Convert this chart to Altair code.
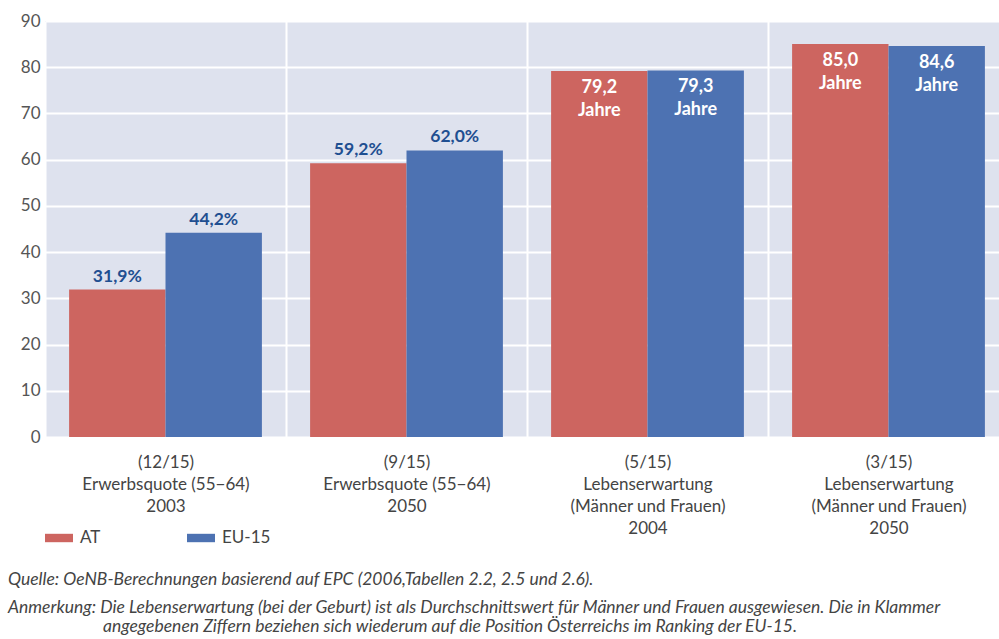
import altair as alt
import pandas as pd

categories = [
    "(12/15)|Erwerbsquote (55−64)|2003",
    "(9/15)|Erwerbsquote (55−64)|2050",
    "(5/15)|Lebenserwartung|(Männer und Frauen)|2004",
    "(3/15)|Lebenserwartung|(Männer und Frauen)|2050",
]
series = ["AT", "EU-15"]
at_values = [31.9, 59.2, 79.2, 85.0]
eu_values = [44.2, 62.0, 79.3, 84.6]
at_labels = ["31,9%", "59,2%", "79,2|Jahre", "85,0|Jahre"]
eu_labels = ["44,2%", "62,0%", "79,3|Jahre", "84,6|Jahre"]
label_inside = [False, False, True, True]
y_ticks = [0, 10, 20, 30, 40, 50, 60, 70, 80, 90]
colors = ["#CD6560", "#4D72B2"]

note_quelle = "Quelle: OeNB-Berechnungen basierend auf EPC (2006,Tabellen 2.2, 2.5 und 2.6)."
note_anm1 = "Anmerkung: Die Lebenserwartung (bei der Geburt) ist als Durchschnittswert für Männer und Frauen ausgewiesen. Die in Klammer"
note_anm2 = "angegebenen Ziffern beziehen sich wiederum auf die Position Österreichs im Ranking der EU-15."

rows = []
for i, c in enumerate(categories):
    rows.append(dict(category=c, series="AT", value=at_values[i], label=at_labels[i], inside=label_inside[i]))
    rows.append(dict(category=c, series="EU-15", value=eu_values[i], label=eu_labels[i], inside=label_inside[i]))
df = pd.DataFrame(rows)

FS = 17

x_enc = alt.X(
    "category:N", sort=categories,
    scale=alt.Scale(range=[0, 964], paddingInner=0, paddingOuter=0),
    axis=alt.Axis(title=None, labelExpr="split(datum.label, '|')", labelAngle=0,
                  labelPadding=17, labelLineHeight=22, labelFontSize=FS, labelColor="#444",
                  labelBaseline="top",
                  ticks=False, domain=False, grid=True, gridColor="white", gridWidth=2,
                  tickBand="extent"),
)
xo_enc = alt.XOffset("series:N", sort=series, scale=alt.Scale(paddingInner=0, paddingOuter=0.25))
y_enc = alt.Y(
    "value:Q", scale=alt.Scale(domain=[0, 90], nice=False),
    axis=alt.Axis(title=None, values=y_ticks, grid=True, gridColor="white", gridWidth=2,
                  ticks=False, domain=False, labelPadding=5, labelFontSize=FS, labelColor="#555"),
)
color_enc = alt.Color(
    "series:N", sort=series, scale=alt.Scale(domain=series, range=colors),
    legend=alt.Legend(title=None, orient="none", legendX=0, legendY=503, direction="horizontal",
                      padding=0, columnPadding=86, labelFontSize=FS, labelColor="#444",
                      symbolType="M-1,-0.3L1,-0.3L1,0.3L-1,0.3Z", symbolSize=784,
                      symbolStrokeWidth=0, labelOffset=7, symbolOpacity=1),
)

base = alt.Chart(df).encode(x=x_enc, xOffset=xo_enc, y=y_enc)
bars = base.mark_bar(opacity=1).encode(color=color_enc)

text_above = base.transform_filter("!datum.inside").transform_calculate(
    lines="split(datum.label, '|')"
).mark_text(baseline="bottom", dy=-4, fontSize=17.5, fontWeight="bold", color="#1F4F91").encode(
    text="lines:N"
)
text_inside = base.transform_filter("datum.inside").transform_calculate(
    lines="split(datum.label, '|')"
).mark_text(baseline="top", dy=8, fontSize=18, fontWeight="bold", color="white", lineHeight=23).encode(
    text="lines:N"
)

one = pd.DataFrame({"k": [0]})
foot_style = dict(align="left", baseline="middle", fontSize=17.5, fontStyle="italic", color="#444")
foot1 = alt.Chart(one).mark_text(**foot_style).encode(x=alt.value(-37), y=alt.value(559), text=alt.value(note_quelle))
foot2 = alt.Chart(one).mark_text(**foot_style).encode(x=alt.value(-37), y=alt.value(587), text=alt.value(note_anm1))
foot3 = alt.Chart(one).mark_text(**foot_style).encode(x=alt.value(58), y=alt.value(606), text=alt.value(note_anm2))

chart = alt.layer(bars, text_above, text_inside, foot1, foot2, foot3).properties(
    width=954, height=416,
    autosize=alt.AutoSizeParams(type="none"),
    padding={"left": 45, "top": 21, "right": 0, "bottom": 202},
    background="white",
    view=alt.ViewBackground(fill="#DEE2EE", strokeWidth=0),
).configure_view(fill="#DEE2EE", strokeWidth=0).configure(font="Lato")

chart.save("out.html", embed_options={"renderer": "svg", "actions": False})
